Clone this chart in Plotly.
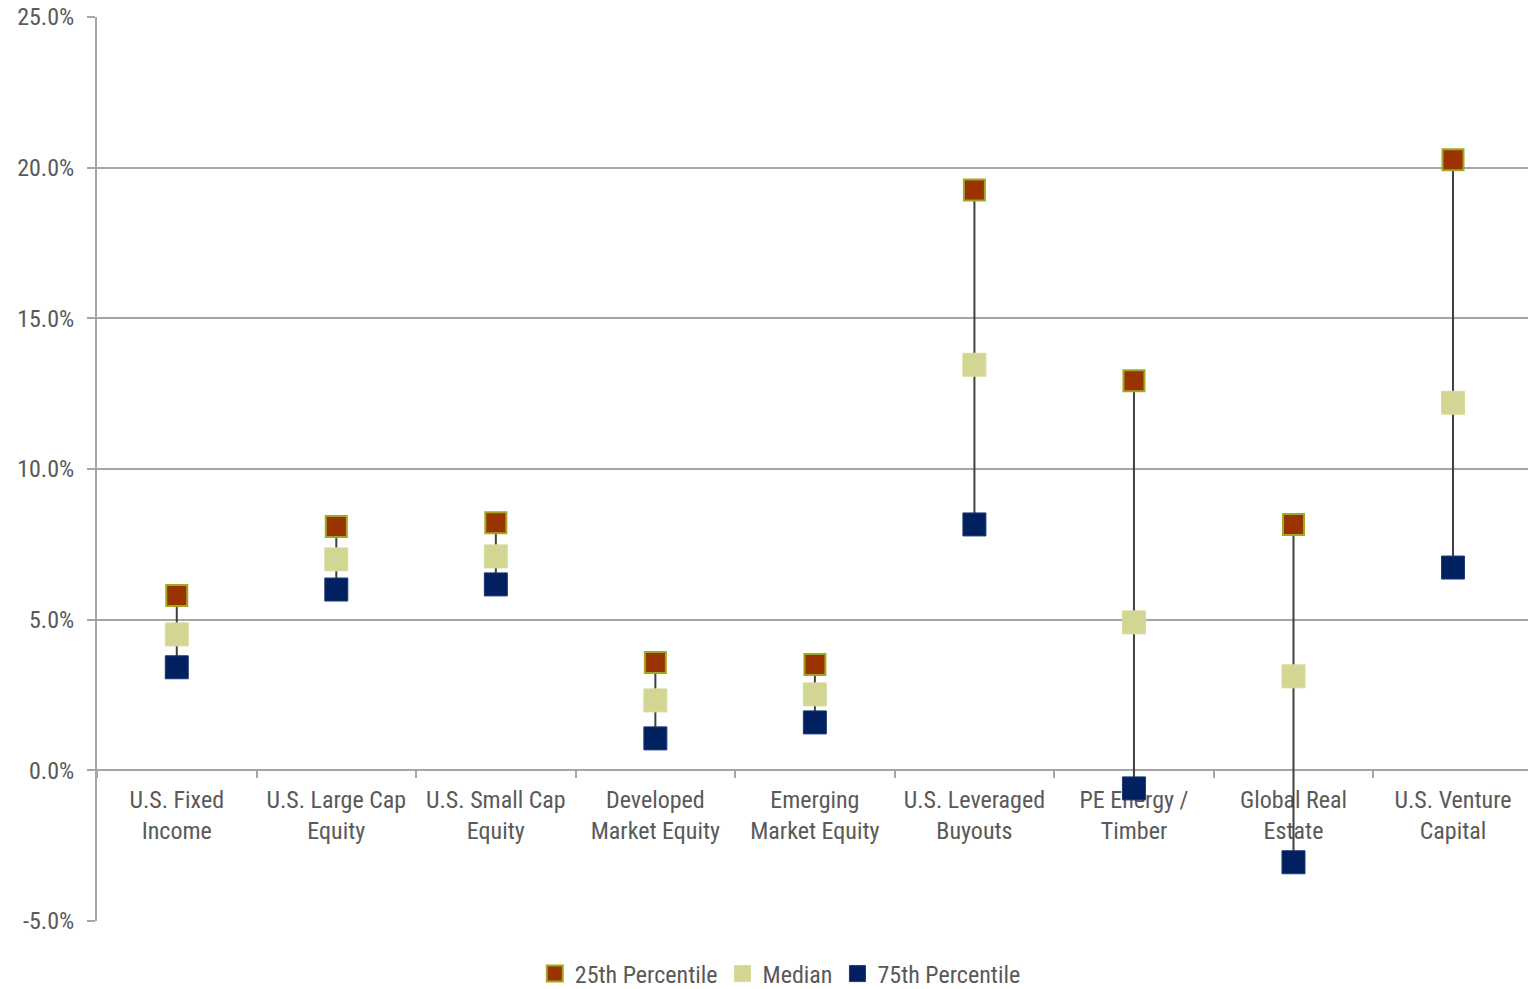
import plotly.graph_objects as go

categories = ["U.S. Fixed<br>Income", "U.S. Large Cap<br>Equity", "U.S. Small Cap<br>Equity",
              "Developed<br>Market Equity", "Emerging<br>Market Equity", "U.S. Leveraged<br>Buyouts",
              "PE Energy /<br>Timber", "Global Real<br>Estate", "U.S. Venture<br>Capital"]
p25 = [5.80, 8.09, 8.22, 3.58, 3.51, 19.26, 12.93, 8.16, 20.26]
median = [4.51, 7.00, 7.10, 2.32, 2.52, 13.46, 4.91, 3.12, 12.20]
p75 = [3.42, 6.00, 6.17, 1.06, 1.59, 8.16, -0.60, -3.05, 6.73]
y_ticks = [-5, 0, 5, 10, 15, 20, 25]
y_tick_text = [f"{v:.1f}%" for v in y_ticks]

FONT = "Liberation Sans Narrow, Arial Narrow, Roboto Condensed, Liberation Sans, sans-serif"
TXT = "#595959"
GRID = "#A6A6A6"

fig = go.Figure()

# connecting lines from 25th to 75th
lx, ly = [], []
for c, a, b in zip(categories, p25, p75):
    lx += [c, c, None]
    ly += [a, b, None]
fig.add_trace(go.Scatter(x=lx, y=ly, mode="lines", line=dict(color="#404040", width=2),
                         showlegend=False, hoverinfo="skip"))

fig.add_trace(go.Scatter(x=categories, y=p75, mode="markers", name="75th Percentile",
                         marker=dict(symbol="square", size=23, color="#002060",
                                     line=dict(color="#1F3A70", width=1))))
fig.add_trace(go.Scatter(x=categories, y=median, mode="markers", name="Median",
                         marker=dict(symbol="square", size=23, color="#D2D692",
                                     line=dict(color="#D8DB9C", width=1))))
fig.add_trace(go.Scatter(x=categories, y=p25, mode="markers", name="25th Percentile",
                         marker=dict(symbol="square", size=21, color="#993300",
                                     line=dict(color="#A4A820", width=2))))

fig.update_layout(
    width=1528, height=989,
    margin=dict(l=97, r=0, t=17, b=68),
    paper_bgcolor="white", plot_bgcolor="white",
    font=dict(family=FONT, size=24, color=TXT),
    showlegend=True,
    legend=dict(orientation="h", x=0.35, xanchor="left", xref="container",
                y=15/989, yanchor="middle", yref="container",
                traceorder="reversed", font=dict(family=FONT, size=24, color=TXT),
                itemwidth=30, tracegroupgap=0, bgcolor="rgba(0,0,0,0)"),
    xaxis=dict(type="category", anchor="free", position=5/30, showgrid=False,
               showline=True, linecolor=GRID, linewidth=2,
               ticks="outside", tickson="boundaries", ticklen=7, tickcolor=GRID, tickwidth=2,
               tickfont=dict(family=FONT, size=24, color=TXT), layer="below traces",
               ticklabelstandoff=8, tickangle=0, automargin=False,
               range=[-0.5, 8.47], zeroline=False),
    yaxis=dict(range=[-5, 25], tickvals=y_ticks, ticktext=y_tick_text,
               showgrid=True, gridcolor=GRID, gridwidth=1.5,
               showline=True, linecolor=GRID, linewidth=2,
               ticks="outside", ticklen=8, tickcolor=GRID, tickwidth=1.5,
               ticklabelstandoff=8, automargin=False,
               zeroline=False, tickfont=dict(family=FONT, size=24, color=TXT),
               layer="below traces"),
)

fig.write_html("out.html")
